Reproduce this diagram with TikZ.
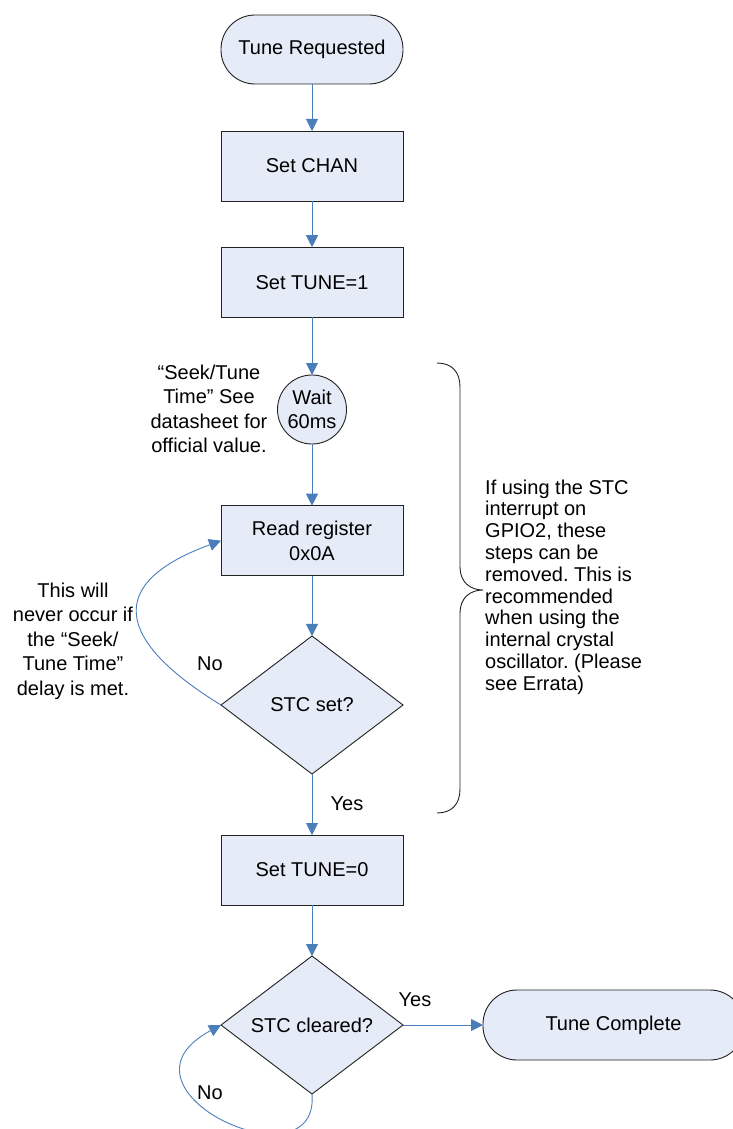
\documentclass[tikz,border=0pt]{standalone}
\usepackage{fontspec}
\setmainfont{Liberation Sans}
\usetikzlibrary{shapes.geometric,arrows.meta}
\definecolor{flowfill}{HTML}{E6ECF7}
\definecolor{flowblue}{HTML}{4A7EBB}
\definecolor{flowline}{HTML}{222222}
\frenchspacing
\tikzset{
  base/.style={draw=flowline, line width=0.9pt, fill=flowfill, font=\fontsize{20}{24.5}\selectfont, align=center, inner sep=0pt, outer sep=0pt},
  procbox/.style={base, rectangle, minimum width=182pt, minimum height=70pt},
  termbox/.style={base, rectangle, rounded corners=34pt, minimum height=69pt},
  waitcirc/.style={base, circle, minimum size=69pt},
  decbox/.style={base, diamond, minimum width=182pt, minimum height=138pt},
  flow/.style={draw=flowblue, line width=0.9pt, -{Triangle[width=12pt,length=12pt]}},
  note/.style={font=\fontsize{20}{24.5}\selectfont, align=center, inner sep=0pt},
  lab/.style={font=\fontsize{20}{24}\selectfont, inner sep=0pt},
}
\begin{document}
\begin{tikzpicture}[x=1pt,y=-1pt]
\path[use as bounding box, clip] (0,0) rectangle (733,1129);
\fill[white] (0,0) rectangle (733,1129);

\node[termbox, minimum width=182pt] (tunereq) at (312,49.5) {Tune Requested};
\node[procbox] (setchan) at (312,166) {Set CHAN};
\node[procbox] (settune1) at (312,282.2) {Set TUNE=1};
\node[waitcirc] (wait) at (312,409.5) {Wait\\60ms};
\node[procbox] (readreg) at (312,540.7) {Read register\\0x0A};
\node[decbox] (stcset) at (312,705) {STC set?};
\node[procbox] (settune0) at (312,870) {Set TUNE=0};
\node[decbox] (stccleared) at (312,1025) {STC cleared?};
\node[termbox, minimum width=261pt, minimum height=70pt] (tunecomplete) at (613.5,1025) {Tune Complete};

\draw[flow] (tunereq) -- (setchan);
\draw[flow] (setchan) -- (settune1);
\draw[flow] (settune1) -- (wait);
\draw[flow] (wait) -- (readreg);
\draw[flow] (readreg) -- (stcset);
\draw[flow] (stcset) -- (settune0);
\draw[flow] (settune0) -- (stccleared);
\draw[flow] (stccleared) -- (tunecomplete);
\draw[flow] (stcset.west) .. controls (115,640) and (105,583) .. (readreg.west);
\draw[flow] (stccleared.south) .. controls (320,1190) and (100,1090) .. (stccleared.west);

\node[note] (seeknote) at (209,409) {“Seek/Tune\\Time” See\\datasheet for\\official value.};
\node[note] (nevernote) at (73,641) {This will\\never occur if\\the “Seek/\\Tune Time”\\delay is met.};
\node[note, align=left, anchor=west, font=\fontsize{20}{21.8}\selectfont] (bracenote) at (485,587) {If using the STC\\interrupt on\\GPIO2, these\\steps can be\\removed. This is\\recommended\\when using the\\internal crystal\\oscillator. (Please\\see Errata)};

\node[lab] (nolab1) at (210,664) {No};
\node[lab] (yeslab1) at (347,804) {Yes};
\node[lab] (yeslab2) at (415,1000) {Yes};
\node[lab] (nolab2) at (210,1093) {No};

\draw[line width=0.9pt, flowline] (437,363) .. controls (452,363) and (460,372) .. (460,387) -- (460,567) .. controls (460,582) and (470,590) .. (483,590) .. controls (470,590) and (460,598) .. (460,613) -- (460,789) .. controls (460,804) and (452,813) .. (437,813);
\end{tikzpicture}
\end{document}
